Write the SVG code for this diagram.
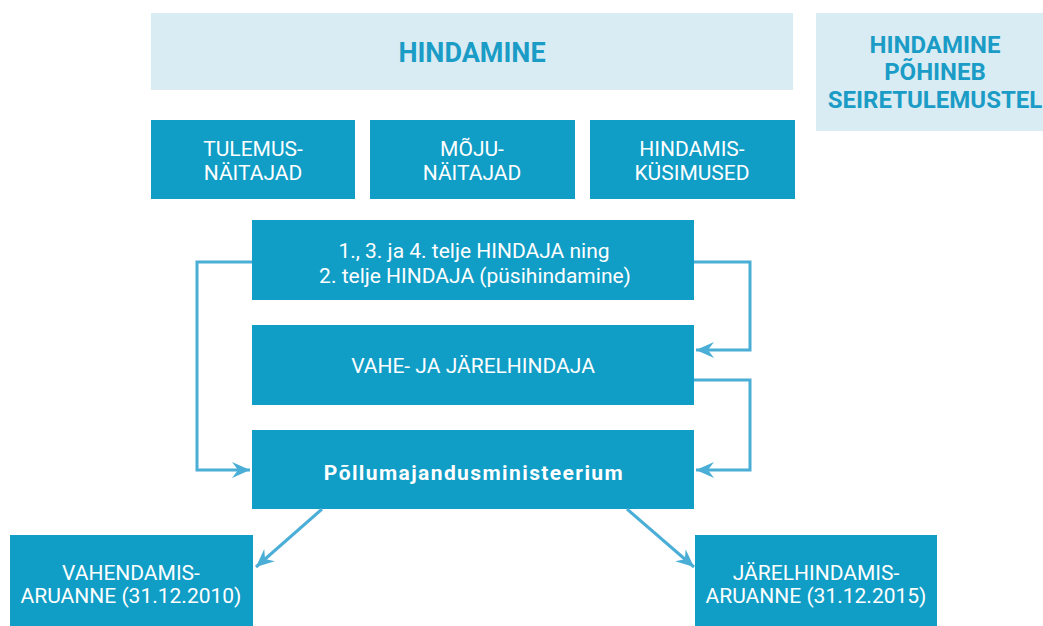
<svg xmlns="http://www.w3.org/2000/svg" width="1043" height="626" viewBox="0 0 1043 626">
<defs>
<style>
.light{fill:#daecf3}
.dark{fill:#109dc6}
.t{font-family:"Roboto","Liberation Sans",sans-serif;fill:#fff;font-size:21px;text-anchor:middle}
.h{font-family:"Roboto","Liberation Sans",sans-serif;fill:#1a9cc6;font-weight:bold;text-anchor:middle}
.c{fill:none;stroke:#4aaed6;stroke-width:3}
</style>
<marker id="ah" viewBox="0 0 20 20" refX="18" refY="10" markerWidth="20" markerHeight="20" markerUnits="userSpaceOnUse" orient="auto">
<path d="M0,2 L18,10 L0,18 L6,10 Z" fill="#4aaed6"/>
</marker>
</defs>
<rect width="1043" height="626" fill="#fff"/>
<g id="hindamine"><rect class="light" x="151" y="13" width="642" height="77"/><text class="h" x="472" y="62" font-size="27">HINDAMINE</text></g>
<g id="pohineb"><rect class="light" x="816" y="13" width="227" height="118"/>
<text class="h" x="935" y="53" font-size="24">HINDAMINE</text>
<text class="h" x="935" y="80" font-size="24">PÕHINEB</text>
<text class="h" x="935" y="108" font-size="24">SEIRETULEMUSTEL</text></g>
<g id="tulemus"><rect class="dark" x="151" y="120" width="204" height="79"/><text class="t" x="253" y="156">TULEMUS-</text><text class="t" x="253" y="180">NÄITAJAD</text></g>
<g id="moju"><rect class="dark" x="370" y="120" width="205" height="79"/><text class="t" x="472" y="156">MÕJU-</text><text class="t" x="472" y="180">NÄITAJAD</text></g>
<g id="kysimused"><rect class="dark" x="590" y="120" width="205" height="79"/><text class="t" x="692" y="156">HINDAMIS-</text><text class="t" x="692" y="180">KÜSIMUSED</text></g>
<g id="hindaja"><rect class="dark" x="252" y="220" width="442" height="80"/><text class="t" x="474" y="258" font-size="20">1., 3. ja 4. telje HINDAJA ning</text><text class="t" x="475" y="283" font-size="20">2. telje HINDAJA (püsihindamine)</text></g>
<g id="vahe"><rect class="dark" x="252" y="325" width="442" height="80"/><text class="t" x="473" y="373">VAHE- JA JÄRELHINDAJA</text></g>
<g id="ministeerium"><rect class="dark" x="252" y="430" width="442" height="79"/><text class="t" x="474" y="480" font-weight="bold" font-size="26" letter-spacing="1.4">Põllumajandusministeerium</text></g>
<g id="vahendamis"><rect class="dark" x="10" y="535" width="243" height="91"/><text class="t" x="131" y="580">VAHENDAMIS-</text><text class="t" x="131" y="603">ARUANNE (31.12.2010)</text></g>
<g id="jarelhindamis"><rect class="dark" x="695" y="535" width="242" height="91"/><text class="t" x="816" y="580">JÄRELHINDAMIS-</text><text class="t" x="816" y="603">ARUANNE (31.12.2015)</text></g>
<g id="connectors">
<path class="c" d="M252,262 H197 V470 H250" marker-end="url(#ah)"/>
<path class="c" d="M694,262 H750 V350 H696" marker-end="url(#ah)"/>
<path class="c" d="M694,380 H750 V470 H696" marker-end="url(#ah)"/>
<path class="c" d="M322,509 L256,567" marker-end="url(#ah)"/>
<path class="c" d="M627,509 L694,567" marker-end="url(#ah)"/>
</g>
</svg>
